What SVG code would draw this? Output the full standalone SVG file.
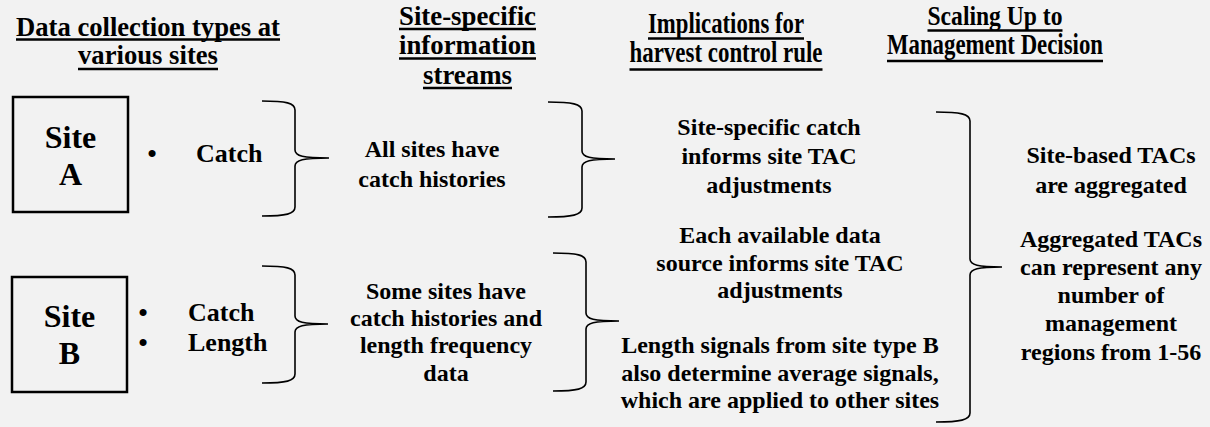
<svg xmlns="http://www.w3.org/2000/svg" width="1210" height="427" viewBox="0 0 1210 427">
<style>
text{font-family:"Liberation Serif","Times New Roman",serif;font-weight:bold;fill:#000;text-anchor:middle}
.h{font-size:26.7px}
.hc{font-size:29px}
.hs{font-size:28px}
.ul{stroke:#000;stroke-width:2.5}
.b{font-size:24px}
.item{font-size:26px;text-anchor:start}
.bul{font-family:"Liberation Sans",Arial,sans-serif;font-size:26px;font-weight:normal}
.site{font-size:32px}
.box{fill:none;stroke:#000;stroke-width:2.5}
.brace{fill:none;stroke:#000;stroke-width:1.6}
</style>
<rect x="0" y="0" width="1210" height="427" fill="#f2f2f2"/>

<g id="header-data-collection">
<text class="h" x="148" y="36" textLength="264" lengthAdjust="spacingAndGlyphs">Data collection types at</text>
<text class="h" x="148" y="64" textLength="140" lengthAdjust="spacingAndGlyphs">various sites</text>
<line class="ul" x1="16" y1="39.5" x2="280" y2="39.5"/>
<line class="ul" x1="78" y1="69" x2="218" y2="69"/>
</g>
<g id="header-info-streams">
<text class="h" x="467.5" y="25" textLength="137" lengthAdjust="spacingAndGlyphs">Site-specific</text>
<text class="h" x="467.5" y="54" textLength="137" lengthAdjust="spacingAndGlyphs">information</text>
<text class="h" x="467.5" y="84" textLength="89" lengthAdjust="spacingAndGlyphs">streams</text>
<line class="ul" x1="399" y1="29" x2="536" y2="29"/>
<line class="ul" x1="399" y1="58.5" x2="536" y2="58.5"/>
<line class="ul" x1="423" y1="88" x2="512" y2="88"/>
</g>
<g id="header-implications">
<text class="hc" x="726" y="33" textLength="156" lengthAdjust="spacingAndGlyphs">Implications for</text>
<text class="hc" x="726" y="62" textLength="193" lengthAdjust="spacingAndGlyphs">harvest control rule</text>
<line class="ul" x1="648" y1="38.5" x2="804" y2="38.5"/>
<line class="ul" x1="629.5" y1="69.5" x2="822.5" y2="69.5"/>
</g>
<g id="header-scaling">
<text class="hs" x="995" y="25" textLength="135" lengthAdjust="spacingAndGlyphs">Scaling Up to</text>
<text class="hc" x="995" y="54" textLength="216" lengthAdjust="spacingAndGlyphs">Management Decision</text>
<line class="ul" x1="927.5" y1="30.5" x2="1062.5" y2="30.5"/>
<line class="ul" x1="887" y1="61" x2="1103" y2="61"/>
</g>

<g id="site-a">
<rect class="box" x="13" y="97" width="115" height="115"/>
<text class="site" x="70.5" y="148">Site</text>
<text class="site" x="70.5" y="185">A</text>
</g>
<g id="site-a-data">
<text class="bul" x="152" y="162">•</text>
<text class="item" x="196" y="162">Catch</text>
</g>
<g id="site-b">
<rect class="box" x="12" y="277" width="115" height="115"/>
<text class="site" x="69.5" y="327">Site</text>
<text class="site" x="69.5" y="364">B</text>
</g>
<g id="site-b-data">
<text class="bul" x="143" y="321">•</text>
<text class="bul" x="143" y="351">•</text>
<text class="item" x="188" y="321">Catch</text>
<text class="item" x="188" y="351">Length</text>
</g>

<g id="stream-a">
<text class="b" x="432" y="157">All sites have</text>
<text class="b" x="432" y="187">catch histories</text>
</g>
<g id="stream-b">
<text class="b" x="446" y="299">Some sites have</text>
<text class="b" x="446" y="326">catch histories and</text>
<text class="b" x="446" y="353">length frequency</text>
<text class="b" x="446" y="381">data</text>
</g>

<g id="implication-catch">
<text class="b" x="769" y="135">Site-specific catch</text>
<text class="b" x="769" y="164">informs site TAC</text>
<text class="b" x="769" y="193">adjustments</text>
</g>
<g id="implication-each-source">
<text class="b" x="780" y="243">Each available data</text>
<text class="b" x="780" y="271">source informs site TAC</text>
<text class="b" x="780" y="298">adjustments</text>
</g>
<g id="implication-length">
<text class="b" x="780" y="353">Length signals from site type B</text>
<text class="b" x="780" y="381">also determine average signals,</text>
<text class="b" x="780" y="408">which are applied to other sites</text>
</g>

<g id="scaling-aggregated">
<text class="b" x="1111" y="163">Site-based TACs</text>
<text class="b" x="1111" y="193">are aggregated</text>
</g>
<g id="scaling-regions">
<text class="b" x="1111" y="247">Aggregated TACs</text>
<text class="b" x="1111" y="275">can represent any</text>
<text class="b" x="1111" y="303">number of</text>
<text class="b" x="1111" y="331">management</text>
<text class="b" x="1111" y="360">regions from 1-56</text>
</g>

<g id="connectors">
<path class="brace" d="M262,101 C286,101 295,103 295,110 L295,150 C295,156 303,158 329,158 C303,158 295,160 295,166 L295,207 C295,214 286,216 262,216"/>
<path class="brace" d="M262,266 C286,266 295,268 295,275 L295,316 C295,322 303,324 328,324 C303,324 295,326 295,332 L295,374 C295,381 286,383 262,383"/>
<path class="brace" d="M548,102 C572,102 582,104 582,111 L582,151 C582,157 590,159 615,159 C590,159 582,161 582,167 L582,208 C582,215 572,217 548,217"/>
<path class="brace" d="M553,253 C577,253 586,255 586,262 L586,313 C586,319 594,321 619,321 C594,321 586,323 586,329 L586,382 C586,389 577,391 553,391"/>
<path class="brace" d="M936,112 C960,112 970,114 970,121 L970,259 C970,265 978,267 1002,267 C978,267 970,269 970,275 L970,413 C970,420 960,422 936,422"/>
</g>
</svg>
